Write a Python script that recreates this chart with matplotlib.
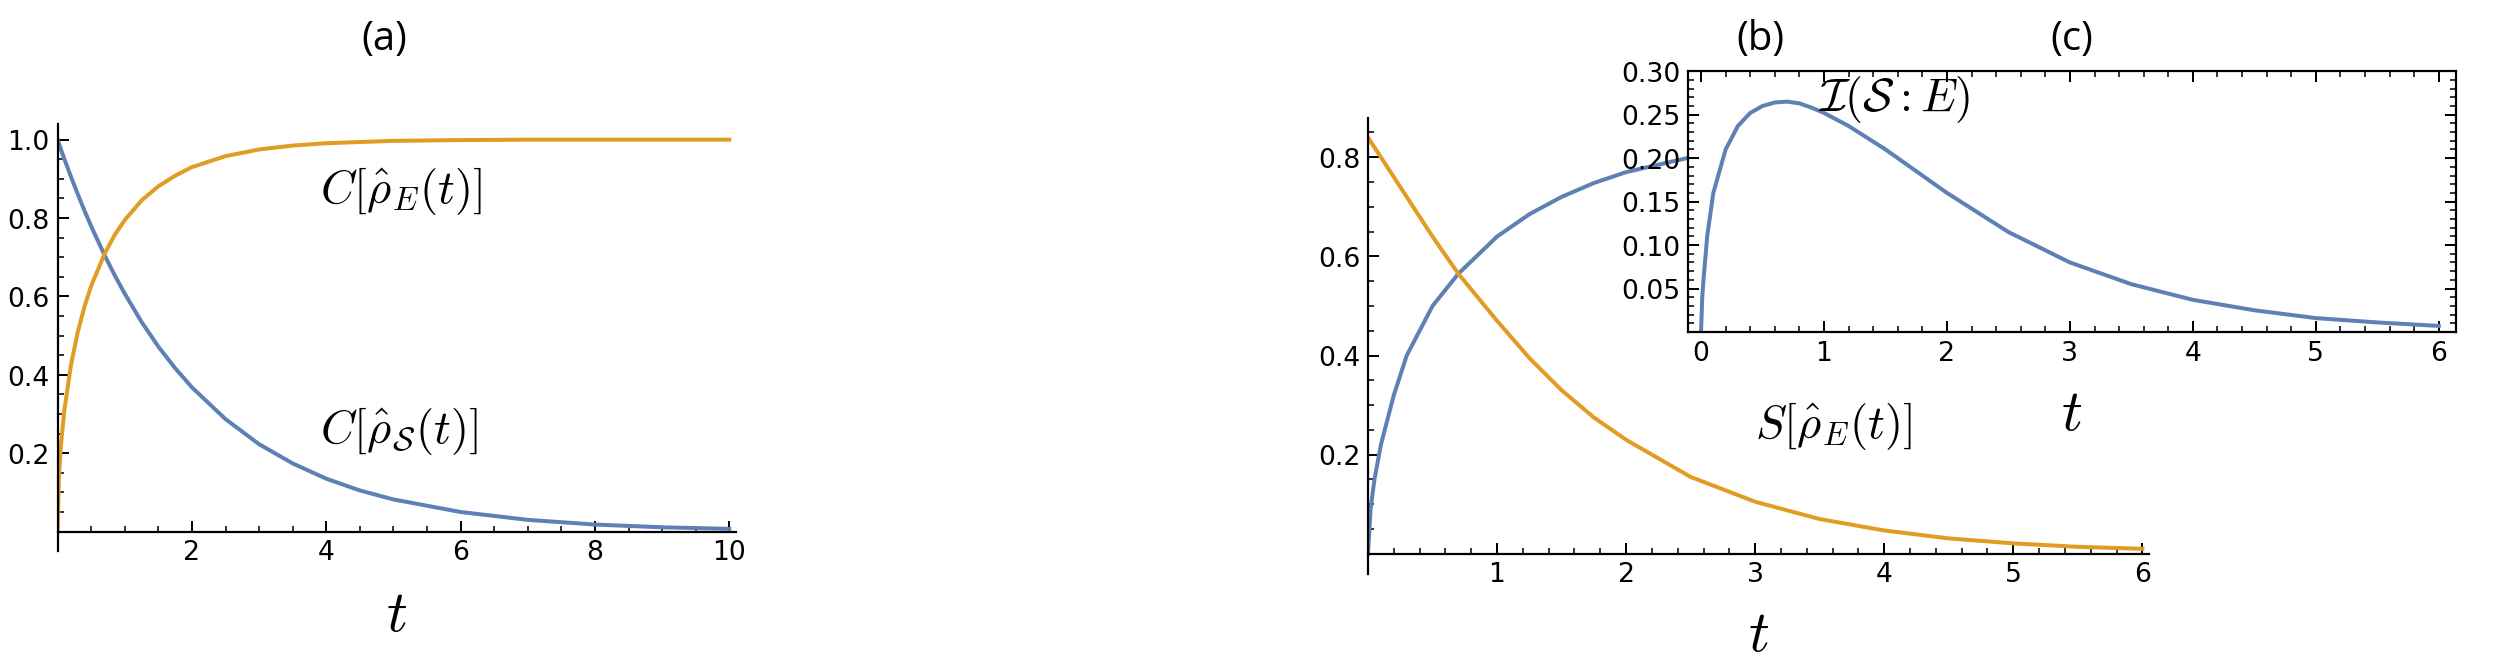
import matplotlib
matplotlib.use("Agg")
import matplotlib.pyplot as plt

plt.rcParams['mathtext.fontset'] = 'cm'
BLUE = '#5E81B5'
ORANGE = '#E19C24'

# Panel (a)
ta = [0, 0.02, 0.05, 0.1, 0.2, 0.3, 0.4, 0.5, 0.7, 0.85, 1, 1.25, 1.5, 1.75, 2, 2.5, 3, 3.5, 4,
      4.5, 5, 6, 7, 8, 9, 10]
cs = [1, 0.990, 0.975, 0.951, 0.905, 0.861, 0.819, 0.779, 0.705, 0.654, 0.607, 0.535, 0.472,
      0.417, 0.368, 0.287, 0.223, 0.174, 0.135, 0.105, 0.082, 0.050, 0.030, 0.018, 0.011, 0.007]
ce = [0, 0.141, 0.221, 0.309, 0.426, 0.509, 0.574, 0.627, 0.709, 0.757, 0.795, 0.845, 0.881,
      0.908, 0.930, 0.958, 0.975, 0.985, 0.991, 0.994, 0.997, 0.999, 1.0, 1.0, 1.0, 1.0]
# Panel (b)
tb = [0, 0.02, 0.05, 0.1, 0.2, 0.3, 0.5, 0.7, 1, 1.25, 1.5, 1.75, 2, 2.5, 3, 3.5, 4, 4.5, 5, 5.5, 6]
se = [0.84, 0.832, 0.82, 0.80, 0.76, 0.72, 0.64, 0.565, 0.47, 0.395, 0.33, 0.275, 0.23, 0.155,
      0.105, 0.07, 0.047, 0.031, 0.021, 0.014, 0.01]
ss = [0, 0.09, 0.15, 0.22, 0.32, 0.40, 0.50, 0.565, 0.64, 0.685, 0.72, 0.748, 0.77, 0.80, 0.82,
      0.83, 0.835, 0.838, 0.84, 0.841, 0.842]
# Panel (c)
tc = [0, 0.01, 0.02, 0.05, 0.1, 0.2, 0.3, 0.4, 0.5, 0.6, 0.7, 0.8, 0.9, 1.0, 1.2, 1.5, 1.75, 2,
      2.5, 3, 3.5, 4, 4.5, 5, 5.5, 6]
mi = [0, 0.04, 0.06, 0.11, 0.16, 0.21, 0.237, 0.252, 0.26, 0.264, 0.265, 0.263, 0.258, 0.252,
      0.237, 0.21, 0.185, 0.16, 0.115, 0.08, 0.055, 0.037, 0.025, 0.016, 0.011, 0.007]

W, H = 1568, 408
fig = plt.figure(figsize=(W/100, H/100), dpi=160)

def ax_px(l, r, t, b):
    return fig.add_axes([l/W, 1-b/H, (r-l)/W, (b-t)/H])

TS = 12
LW = 1.8

def mma(ax):
    ax.spines['top'].set_visible(False)
    ax.spines['right'].set_visible(False)
    ax.spines['left'].set_position(('data', 0))
    ax.spines['bottom'].set_position(('data', 0))
    for s in ax.spines.values():
        s.set_linewidth(1.0)
    ax.tick_params(labelsize=TS, width=0.9, length=5, direction='in')
    ax.tick_params(which='minor', length=2.5, width=0.7, direction='in')

# (a)
ax = ax_px(36, 460, 78, 345)
ax.plot(ta, cs, color=BLUE, lw=LW)
ax.plot(ta, ce, color=ORANGE, lw=LW)
ax.set_xlim(0, 10.1); ax.set_ylim(-0.05, 1.04)
ax.set_xticks([2, 4, 6, 8, 10]); ax.set_yticks([0.2, 0.4, 0.6, 0.8, 1.0])
ax.set_xticks([0.5*i for i in range(1, 21)], minor=True)
ax.set_yticks([0.05*i for i in range(1, 21)], minor=True)
mma(ax)
ax.text(3.9, 0.87, r'$C[\hat{\rho}_{E}(t)]$', fontsize=21, va='center')
ax.text(3.9, 0.26, r'$C[\hat{\rho}_{\mathcal{S}}(t)]$', fontsize=21, va='center')
ax.set_xlabel(r'$t$', fontsize=26)
ax.xaxis.set_label_coords(0.5, -0.08)
fig.text(240/W, 1-25/H, '(a)', fontsize=18, ha='center', va='center', family='Open Sans')

# (b)
ax = ax_px(855, 1343, 74, 359)
ax.plot(tb, ss, color=BLUE, lw=LW)
ax.plot(tb, se, color=ORANGE, lw=LW)
ax.set_xlim(0, 6.05); ax.set_ylim(-0.04, 0.88)
ax.set_xticks([1, 2, 3, 4, 5, 6]); ax.set_yticks([0.2, 0.4, 0.6, 0.8])
ax.set_xticks([0.2*i for i in range(1, 31)], minor=True)
ax.set_yticks([0.05*i for i in range(1, 18)], minor=True)
mma(ax)
ax.text(3.0, 0.72, r'$S[\hat{\rho}_{\mathcal{S}}(t)]$', fontsize=21, va='center')
ax.text(3.0, 0.26, r'$S[\hat{\rho}_{E}(t)]$', fontsize=21, va='center')
ax.set_xlabel(r'$t$', fontsize=26)
ax.xaxis.set_label_coords(0.5, -0.07)
fig.text(1100/W, 1-25/H, '(b)', fontsize=18, ha='center', va='center', family='Open Sans')

# (c)
ax = ax_px(1687, 2453, 72, 333) if False else None
ax = ax_px(1055, 1535, 45, 208)
ax.plot(tc, mi, color=BLUE, lw=LW)
ax.set_xlim(-0.106, 6.14); ax.set_ylim(0, 0.30)
ax.set_xticks(range(0, 7)); ax.set_yticks([0.05, 0.10, 0.15, 0.20, 0.25, 0.30])
ax.set_yticklabels(['0.05', '0.10', '0.15', '0.20', '0.25', '0.30'])
ax.set_xticks([0.2*i for i in range(0, 31)], minor=True)
ax.set_yticks([0.01*i for i in range(0, 31)], minor=True)
ax.tick_params(labelsize=TS, width=0.9, length=5, direction='in', top=True, right=True)
ax.tick_params(which='minor', length=2.5, width=0.7, direction='in', top=True, right=True)
for s in ax.spines.values():
    s.set_linewidth(1.0)
ax.text(0.95, 0.268, r'$\mathcal{I}(\mathcal{S}:E)$', fontsize=21, va='center')
ax.set_xlabel(r'$t$', fontsize=26)
ax.xaxis.set_label_coords(0.5, -0.2)
fig.text(1295/W, 1-25/H, '(c)', fontsize=18, ha='center', va='center', family='Open Sans')

fig.savefig('out.png', dpi=160)
